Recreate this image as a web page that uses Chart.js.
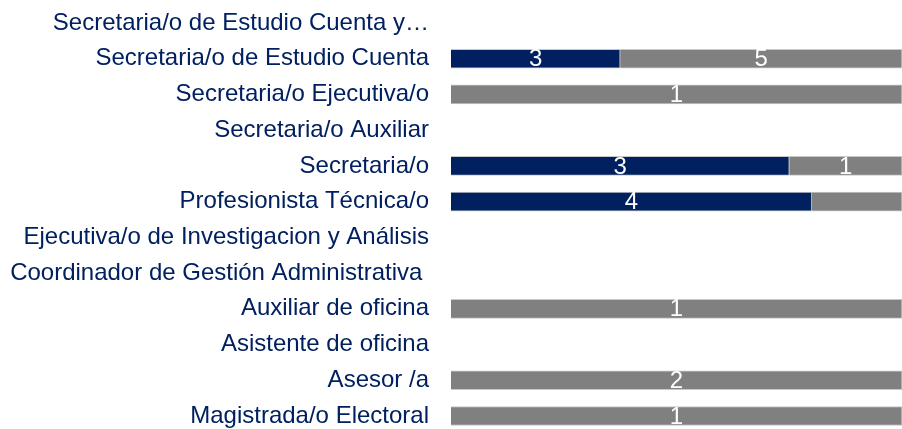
<!DOCTYPE html>
<html>
<head>
<meta charset="utf-8">
<script src="https://cdn.jsdelivr.net/npm/chart.js@4"></script>
<style>
  body { margin: 0; background: #fff; }
</style>
</head>
<body>
<canvas id="puestos" width="902" height="429"></canvas>
<script>
const categorias = [
  "Secretaria/o de Estudio Cuenta y…",
  "Secretaria/o de Estudio Cuenta",
  "Secretaria/o Ejecutiva/o",
  "Secretaria/o Auxiliar",
  "Secretaria/o",
  "Profesionista Técnica/o",
  "Ejecutiva/o de Investigacion y Análisis",
  "Coordinador de Gestión Administrativa ",
  "Auxiliar de oficina",
  "Asistente de oficina",
  "Asesor /a",
  "Magistrada/o Electoral"
];

// conteos por serie
const serieAzul = [0, 3, 0, 0, 3, 4, 0, 0, 0, 0, 0, 0];
const serieGris = [0, 5, 1, 0, 1, 1, 0, 0, 1, 0, 2, 1];
// categorias donde la etiqueta gris no se ve
const grisSinEtiqueta = [5];

const FUENTE = "'Liberation Sans', Arial, sans-serif";

// 100% apilado
function porcentaje(serie) {
  return serie.map((v, i) => {
    let total = serieAzul[i] + serieGris[i];
    return total ? v / total : 0;
  });
}

const etiquetas = {
  id: "etiquetas",
  afterDatasetsDraw(chart) {
    const ctx = chart.ctx;
    ctx.save();
    ctx.font = "24px " + FUENTE;
    ctx.fillStyle = "#ffffff";
    ctx.textAlign = "center";
    ctx.textBaseline = "middle";
    chart.data.datasets.forEach((ds, d) => {
      const meta = chart.getDatasetMeta(d);
      meta.data.forEach((bar, i) => {
        const valor = ds.conteos[i];
        if (!valor) return;
        if (d === 1 && grisSinEtiqueta.includes(i)) return;
        const x = (bar.x + bar.base) / 2;
        ctx.fillText(String(valor), x, bar.y + 1);
      });
    });
    ctx.restore();
  }
};

const ctx1 = document.getElementById("puestos");

new Chart(ctx1, {
  type: "bar",
  data: {
    labels: categorias,
    datasets: [
      {
        label: "Azul",
        data: porcentaje(serieAzul),
        conteos: serieAzul,
        backgroundColor: "#002060",
        borderColor: "#c8c8c8",
        borderWidth: 1,
        barThickness: 19,
        clip: false
      },
      {
        label: "Gris",
        data: porcentaje(serieGris),
        conteos: serieGris,
        backgroundColor: "#808080",
        borderColor: "#c8c8c8",
        borderWidth: 1,
        barThickness: 19,
        clip: false
      }
    ]
  },
  options: {
    indexAxis: "y",
    responsive: false,
    animation: false,
    layout: {
      padding: { top: 23, bottom: 13, left: 0, right: 0 }
    },
    plugins: {
      legend: { display: false },
      tooltip: { enabled: false }
    },
    scales: {
      x: {
        stacked: true,
        display: false,
        min: 0,
        max: 1
      },
      y: {
        stacked: true,
        offset: false,
        grid: { display: false, drawTicks: true, tickLength: 22, color: "rgba(0,0,0,0)" },
        border: { display: false },
        ticks: {
          color: "#002060",
          padding: 0,
          font: { family: FUENTE, size: 24, lineHeight: 1.0 }
        },
        afterFit(scale) {
          scale.width = 451;
        }
      }
    }
  },
  plugins: [etiquetas]
});
</script>
</body>
</html>
